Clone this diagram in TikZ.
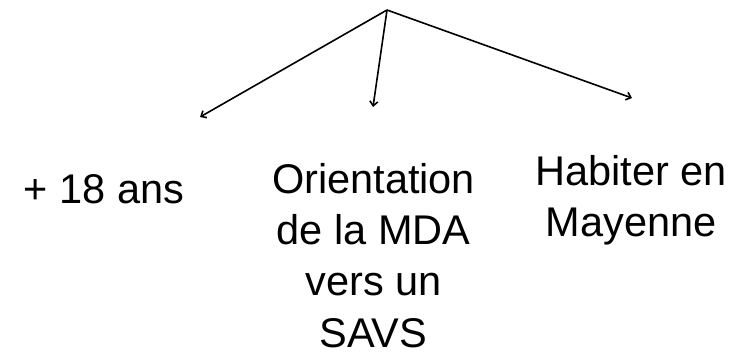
\documentclass[tikz,border=0pt]{standalone}
\usepackage{fontspec}
\setmainfont{Liberation Sans}
\usetikzlibrary{arrows.meta}
\begin{document}
\begin{tikzpicture}[x=1pt,y=-1pt,
  conn/.style={line width=1.6pt,-{Straight Barb[length=4.5pt,width=8pt]}},
  lbl/.style={inner sep=0pt,align=center,anchor=base,font=\fontsize{41.5}{51.3}\selectfont}]
\useasboundingbox (0,0) rectangle (733,359);
\coordinate (apex) at (387,10);
\coordinate (e1) at (200,117);
\coordinate (e2) at (373,107);
\coordinate (e3) at (632,98);
\draw[conn] (apex) -- (e1);
\draw[conn] (apex) -- (e2);
\draw[conn] (apex) -- (e3);
\node[lbl] (age) at (104,203) {+ 18 ans};
\node[lbl] (orient) at (373.5,347) {Orientation\\de la MDA\\vers un\\SAVS};
\node[lbl] (hab) at (631,236.5) {Habiter en\\Mayenne};
\end{tikzpicture}
\end{document}
